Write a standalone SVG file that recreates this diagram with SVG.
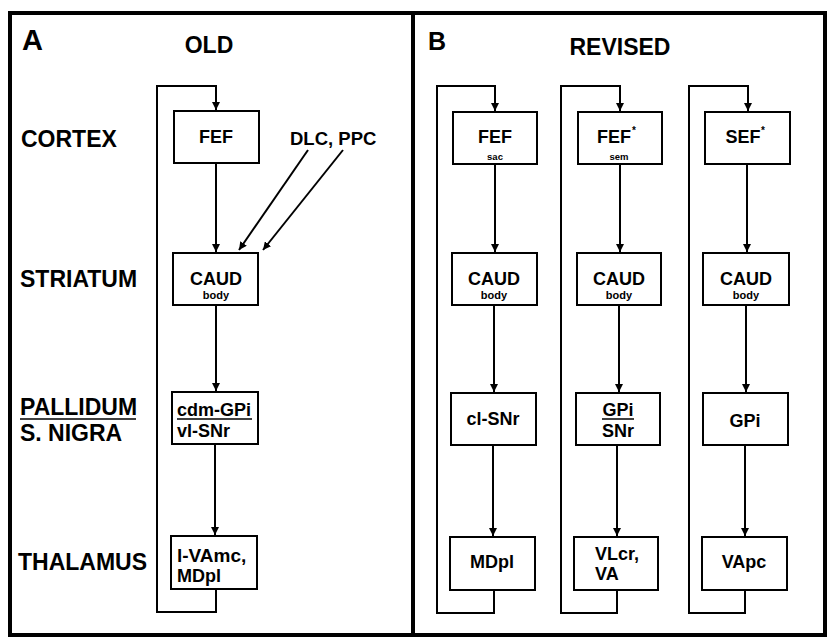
<svg xmlns="http://www.w3.org/2000/svg" width="830" height="639" viewBox="0 0 830 639">
<defs>
<marker id="ah" viewBox="0 0 10 10" refX="10" refY="5" markerWidth="4" markerHeight="4" orient="auto" markerUnits="strokeWidth">
<path d="M0,0 L10,5 L0,10 Z" fill="#000"/>
</marker>
<style>
text{font-family:"Liberation Sans",Arial,sans-serif;font-weight:bold;fill:#000}
.reg{font-size:23px}
.lbl{font-size:18px}
.mid{text-anchor:middle}
.sm{font-size:11px}
.tiny{font-size:9.5px}
.box{fill:#fff;stroke:#000;stroke-width:2}
.con{fill:none;stroke:#000;stroke-width:2}
.ul{stroke:#000;stroke-width:1.5}
.arr{fill:none;stroke:#000;stroke-width:2;marker-end:url(#ah)}
.frame{fill:none;stroke:#000;stroke-width:4}
</style>
</defs>
<rect width="830" height="639" fill="#fff"/>
<g id="frame">
<rect class="frame" x="10" y="13" width="815" height="622"/>
<line class="frame" x1="413" y1="13" x2="413" y2="635"/>
</g>
<g id="titles">
<text x="22" y="50" style="font-size:29px">A</text>
<text x="209" y="53" class="mid" style="font-size:23px">OLD</text>
<text x="428" y="50" style="font-size:25px">B</text>
<text x="620" y="55" class="mid" style="font-size:23px">REVISED</text>
</g>
<g id="regions">
<text x="21" y="147" class="reg">CORTEX</text>
<text x="20" y="287" class="reg">STRIATUM</text>
<text x="20" y="415" class="reg">PALLIDUM</text>
<line class="ul" x1="20" y1="419" x2="136" y2="419"/>
<text x="20" y="441" class="reg">S. NIGRA</text>
<text x="18" y="570" class="reg">THALAMUS</text>
<text x="290" y="145" style="font-size:18.5px">DLC, PPC</text>
</g>
<g id="connectors">
<polyline class="arr" points="216,589 216,612 157,612 157,86 216,86 216,110"/>
<line class="arr" x1="216" y1="163" x2="216" y2="252"/>
<line class="arr" x1="308" y1="150" x2="239" y2="250"/>
<line class="arr" x1="343" y1="150" x2="263" y2="250"/>
<line class="arr" x1="216" y1="305" x2="216" y2="391"/>
<line class="arr" x1="215" y1="444" x2="215" y2="535"/>
<polyline class="arr" points="494,590 494,613 437,613 437,86 495,86 495,111"/>
<line class="arr" x1="495" y1="164" x2="495" y2="252"/>
<line class="arr" x1="494" y1="305" x2="494" y2="392"/>
<line class="arr" x1="493" y1="445" x2="493" y2="536"/>
<polyline class="arr" points="617,590 617,613 561,613 561,86 620,86 620,111"/>
<line class="arr" x1="620" y1="164" x2="620" y2="252"/>
<line class="arr" x1="619" y1="305" x2="619" y2="392"/>
<line class="arr" x1="617" y1="445" x2="617" y2="536"/>
<polyline class="arr" points="745,590 745,613 689,613 689,86 748,86 748,111"/>
<line class="arr" x1="747" y1="164" x2="747" y2="252"/>
<line class="arr" x1="746" y1="305" x2="746" y2="392"/>
<line class="arr" x1="745" y1="445" x2="745" y2="536"/>
</g>
<g id="a-fef">
<rect class="box" x="174" y="111" width="85" height="52"/>
<text x="216" y="143" class="lbl mid">FEF</text>
</g>
<g id="a-caud">
<rect class="box" x="173" y="253" width="85" height="52"/>
<text x="216" y="285" class="lbl mid">CAUD</text>
<text x="216" y="299" class="sm mid">body</text>
</g>
<g id="a-gpi">
<rect class="box" x="172" y="392" width="86" height="52"/>
<text x="177" y="416" class="lbl">cdm-GPi</text>
<line class="ul" x1="177" y1="419" x2="252" y2="419"/>
<text x="177" y="437" class="lbl">vl-SNr</text>
</g>
<g id="a-thal">
<rect class="box" x="171" y="536" width="86" height="53"/>
<text x="177" y="562" class="lbl" style="font-size:19px">l-VAmc,</text>
<text x="177" y="582" class="lbl">MDpl</text>
</g>
<g id="b1-fef">
<rect class="box" x="453" y="112" width="84" height="52"/>
<text x="495" y="143" class="lbl mid">FEF</text>
<text x="495" y="160" class="tiny mid">sac</text>
</g>
<g id="b1-caud">
<rect class="box" x="452" y="253" width="85" height="52"/>
<text x="494" y="285" class="lbl mid">CAUD</text>
<text x="494" y="299" class="sm mid">body</text>
</g>
<g id="b1-snr">
<rect class="box" x="451" y="393" width="85" height="52"/>
<text x="493" y="425" class="lbl mid">cl-SNr</text>
</g>
<g id="b1-md">
<rect class="box" x="450" y="537" width="85" height="53"/>
<text x="492" y="568" class="lbl mid">MDpl</text>
</g>
<g id="b2-fef">
<rect class="box" x="578" y="112" width="84" height="52"/>
<text x="614" y="143" class="lbl mid">FEF</text>
<text x="632" y="134" style="font-size:10px">*</text>
<text x="619" y="160" class="tiny mid">sem</text>
</g>
<g id="b2-caud">
<rect class="box" x="577" y="253" width="84" height="52"/>
<text x="619" y="285" class="lbl mid">CAUD</text>
<text x="619" y="299" class="sm mid">body</text>
</g>
<g id="b2-gpi">
<rect class="box" x="576" y="393" width="84" height="52"/>
<text x="618" y="416" class="lbl mid">GPi</text>
<line class="ul" x1="602" y1="419" x2="634" y2="419"/>
<text x="618" y="437" class="lbl mid">SNr</text>
</g>
<g id="b2-vl">
<rect class="box" x="574" y="537" width="84" height="53"/>
<text x="595" y="560" class="lbl">VLcr,</text>
<text x="595" y="580" class="lbl">VA</text>
</g>
<g id="b3-sef">
<rect class="box" x="705" y="112" width="85" height="52"/>
<text x="743" y="143" class="lbl mid">SEF</text>
<text x="761" y="134" style="font-size:10px">*</text>
</g>
<g id="b3-caud">
<rect class="box" x="703" y="253" width="86" height="52"/>
<text x="746" y="285" class="lbl mid">CAUD</text>
<text x="746" y="299" class="sm mid">body</text>
</g>
<g id="b3-gpi">
<rect class="box" x="703" y="393" width="85" height="52"/>
<text x="745" y="427" class="lbl mid">GPi</text>
</g>
<g id="b3-va">
<rect class="box" x="702" y="537" width="85" height="53"/>
<text x="744" y="568" class="lbl mid">VApc</text>
</g>
</svg>
